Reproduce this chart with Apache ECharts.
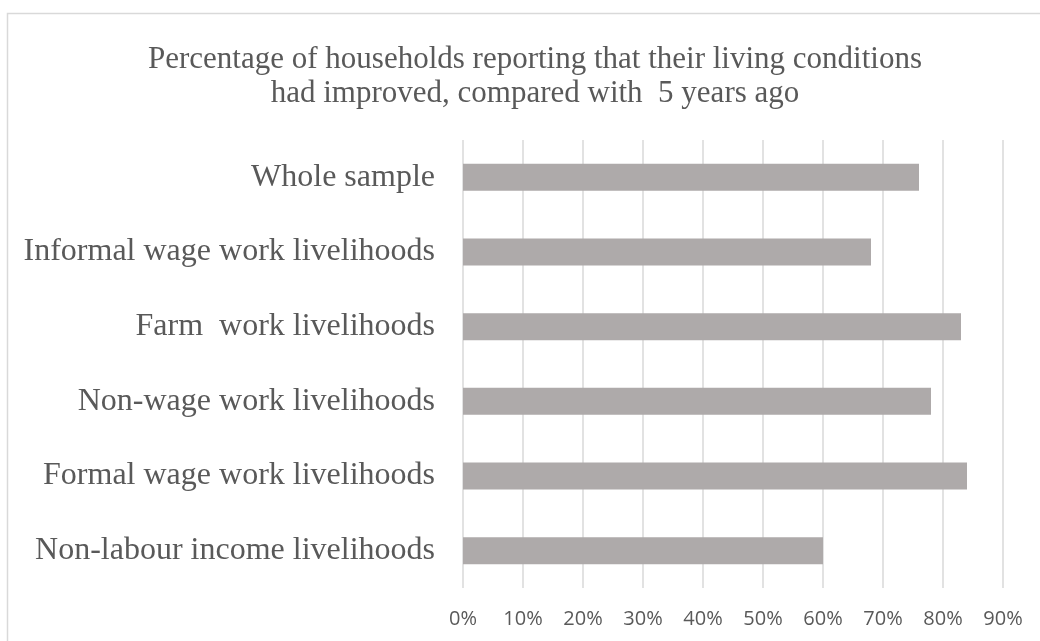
<!DOCTYPE html>
<html>
<head>
<meta charset="utf-8">
<script src="https://cdn.jsdelivr.net/npm/echarts@6/dist/echarts.min.js"></script>
<style>html,body{margin:0;padding:0;background:#fff;}#c{width:1040px;height:641px;}</style>
</head>
<body>
<div id="c"></div>
<script>
const titleLines = ['Percentage of households reporting that their living conditions', 'had improved, compared with  5 years ago'];
const categories = ['Whole sample', 'Informal wage work livelihoods', 'Farm  work livelihoods', 'Non-wage work livelihoods', 'Formal wage work livelihoods', 'Non-labour income livelihoods'];
const values = [76, 68, 83, 78, 84, 60];
const xTicks = [0, 10, 20, 30, 40, 50, 60, 70, 80, 90];

const chart = echarts.init(document.getElementById('c'), null, {renderer: 'canvas'});
chart.setOption({
  animation: false,
  backgroundColor: '#fff',
  title: {
    text: titleLines.join('\n'),
    left: 530,
    top: 38,
    textAlign: 'center',
    textStyle: {fontFamily: 'Liberation Serif', fontSize: 31, fontWeight: 'normal', color: '#595959', lineHeight: 34}
  },
  graphic: [{
    type: 'rect', silent: true,
    shape: {x: 7.5, y: 13.5, width: 1100, height: 700},
    style: {fill: 'none', stroke: '#D9D9D9', lineWidth: 1.5}
  }],
  grid: {left: 463, right: 37, top: 140, bottom: 53, containLabel: false},
  xAxis: {
    type: 'value', min: xTicks[0], max: xTicks[xTicks.length - 1], interval: 10,
    axisLine: {show: false}, axisTick: {show: false},
    splitLine: {show: true, lineStyle: {color: '#D9D9D9', width: 1.5}},
    axisLabel: {formatter: v => v + '%', color: '#595959', fontFamily: 'Open Sans', fontSize: 20, margin: 21}
  },
  yAxis: {
    type: 'category', data: categories, inverse: true,
    axisLine: {show: false}, axisTick: {show: false},
    axisLabel: {color: '#595959', fontFamily: 'Liberation Serif', fontSize: 32, margin: 28}
  },
  series: [{
    type: 'bar', data: values, barWidth: 27,
    itemStyle: {color: '#AEAAAA'}
  }]
});
</script>
</body>
</html>
